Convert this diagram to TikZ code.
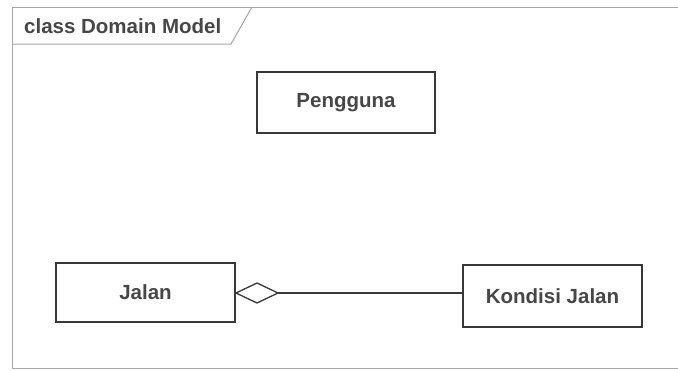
\documentclass[tikz,border=0pt]{standalone}
\usepackage{fontspec}
\setmainfont{Liberation Sans}
\begin{document}
\begin{tikzpicture}[x=1pt,y=-1pt,
  frameline/.style={draw=black!35, line width=1pt},
  labelfont/.style={text=black!72, font=\fontsize{20.5}{24}\selectfont\bfseries},
  classbox/.style={draw=black!78, line width=2pt, fill=white, inner sep=0pt, labelfont},
  assoc/.style={draw=black!78, line width=1.3pt}]
  \useasboundingbox (0,0) rectangle (678,370);
  % outer frame and the name tab
  \draw[frameline] (678,7) -- (12,7) -- (12,368) -- (678,368);
  \draw[frameline] (12,44) -- (231,44) -- (252,7);
  \node[anchor=west, labelfont, inner sep=0pt] (title) at (24,26) {class Domain Model};
  % classes
  \node[classbox, minimum width=178pt, minimum height=61pt] (pengguna) at (346,102.5) {Pengguna};
  \node[classbox, minimum width=179pt, minimum height=59pt] (jalan) at (145.5,292.5) {Jalan};
  \node[classbox, minimum width=179pt, minimum height=62pt] (kondisi) at (552.5,296) {Kondisi Jalan};
  % aggregation: hollow diamond at Jalan
  \coordinate (dtip) at (jalan.east |- 0,293);
  \coordinate (dend) at ([xshift=42pt]dtip);
  \draw[assoc, fill=white, line join=miter] (dtip) -- ++(21,-10) -- (dend) -- ++(-21,10) -- cycle;
  \draw[assoc] (dend) -- (kondisi.west |- dend);
\end{tikzpicture}
\end{document}
